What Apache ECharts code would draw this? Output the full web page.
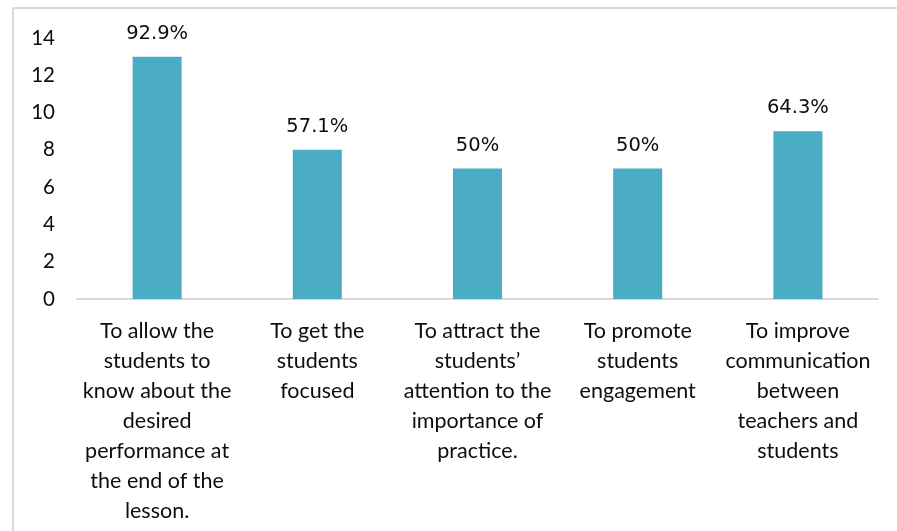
<!DOCTYPE html>
<html>
<head>
<meta charset="utf-8">
<script src="https://cdn.jsdelivr.net/npm/echarts@6/dist/echarts.min.js"></script>
<style>
  html, body { margin: 0; padding: 0; background: #fff; }
  #chart { width: 897px; height: 531px; }
</style>
</head>
<body>
<div id="chart"></div>
<script>
// Reasons given for sharing lesson objectives (number of teachers, n = 14)
const categories = [
  'To allow the\nstudents to\nknow about the\ndesired\nperformance at\nthe end of the\nlesson.',
  'To get the\nstudents\nfocused',
  'To attract the\nstudents\u2019\nattention to the\nimportance of\npractice.',
  'To promote\nstudents\nengagement',
  'To improve\ncommunication\nbetween\nteachers and\nstudents'
];
const counts = [13, 8, 7, 7, 9];
const respondents = 14;
const yTicks = [0, 2, 4, 6, 8, 10, 12, 14];

function percentLabel(v) {
  const p = (v / respondents * 100).toFixed(1);
  return (p.endsWith('.0') ? p.slice(0, -2) : p) + '%';
}

const chart = echarts.init(document.getElementById('chart'), null, { renderer: 'canvas' });

chart.setOption({
  backgroundColor: '#ffffff',
  animation: false,
  grid: { left: 77, right: 19, top: 38, bottom: 232, containLabel: false },
  graphic: [
    { type: 'line', shape: { x1: 13, y1: 8, x2: 897, y2: 8 }, style: { stroke: '#d9d9d9', lineWidth: 2 } },
    { type: 'line', shape: { x1: 13, y1: 8, x2: 13, y2: 531 }, style: { stroke: '#d9d9d9', lineWidth: 2 } }
  ],
  xAxis: {
    type: 'category',
    data: categories,
    axisLine: { lineStyle: { color: '#d9d9d9', width: 2 } },
    axisTick: { show: false },
    axisLabel: {
      interval: 0,
      margin: 17,
      color: '#0d0d0d',
      fontFamily: 'Lato',
      fontSize: 21.5,
      lineHeight: 30,
      align: 'center'
    }
  },
  yAxis: {
    type: 'value',
    min: yTicks[0],
    max: yTicks[yTicks.length - 1],
    interval: 2,
    splitLine: { show: false },
    axisLine: { show: false },
    axisTick: { show: false },
    axisLabel: {
      margin: 22,
      color: '#0d0d0d',
      fontFamily: 'Lato',
      fontSize: 20.5
    }
  },
  series: [{
    type: 'bar',
    data: counts,
    barWidth: '30.6%',
    itemStyle: { color: '#4BACC6' },
    label: {
      show: true,
      position: 'top',
      distance: 13,
      color: '#0d0d0d',
      fontFamily: 'DejaVu Sans',
      fontSize: 19.5,
      formatter: p => percentLabel(p.value)
    }
  }]
});
</script>
</body>
</html>
